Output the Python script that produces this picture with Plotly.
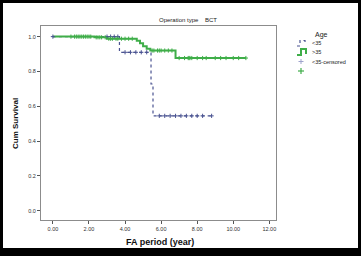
import numpy as np
import plotly.graph_objects as go

# ---- data ----
lt35_time = [0.0, 3.69, 5.44, 5.55, 8.8]
lt35_surv = [1.0, 0.91, 0.728, 0.545, 0.545]
gt35_time = [0.0, 2.3, 3.0, 4.65, 4.83, 5.0, 5.2, 5.4, 6.8, 10.7]
gt35_surv = [1.0, 0.996, 0.988, 0.977, 0.962, 0.945, 0.93, 0.92, 0.877, 0.877]

lt35_cens = [0.0, 3.0, 3.2, 3.4, 3.6, 4.0, 4.3, 4.6, 4.9, 5.2,
             5.9, 6.2, 6.5, 6.8, 7.1, 7.4, 7.7, 8.0, 8.3, 8.8]
gt35_cens = [1.0, 1.2, 1.3, 1.4, 1.5, 1.6, 1.7, 1.8, 1.9, 2.0, 2.1,
             2.4, 2.5, 2.6, 2.7, 2.9, 3.1, 3.2, 3.3, 3.5, 3.6, 3.8, 4.0, 4.2, 4.4,
             5.5, 5.6, 5.8, 5.9, 6.0, 6.2, 6.4, 6.6,
             7.0, 7.3, 7.5, 7.55, 7.6, 7.7, 8.0, 8.3, 8.5, 9.0, 9.3, 9.6, 10.0, 10.3, 10.7]

x_ticks = [0, 2, 4, 6, 8, 10, 12]
y_ticks = [0.0, 0.2, 0.4, 0.6, 0.8, 1.0]

NAVY = "#4a5391"
GREEN = "#3fae49"


def step_at(times, survs, t):
    idx = np.searchsorted(np.array(times), t, side="right") - 1
    return np.array(survs)[np.clip(idx, 0, len(survs) - 1)]


fig = go.Figure()
fig.add_trace(go.Scatter(x=lt35_time, y=lt35_surv, mode="lines", line_shape="hv",
                         line=dict(color=NAVY, width=1.2, dash="dot"), showlegend=False))
fig.add_trace(go.Scatter(x=gt35_time, y=gt35_surv, mode="lines", line_shape="hv",
                         line=dict(color=GREEN, width=2), showlegend=False))
fig.add_trace(go.Scatter(x=lt35_cens, y=step_at(lt35_time, lt35_surv, lt35_cens), mode="markers",
                         marker=dict(symbol="cross-thin", size=3, line=dict(color=NAVY, width=1)),
                         showlegend=False))
fig.add_trace(go.Scatter(x=gt35_cens, y=step_at(gt35_time, gt35_surv, gt35_cens), mode="markers",
                         marker=dict(symbol="cross-thin", size=3, line=dict(color=GREEN, width=1)),
                         showlegend=False))

W, H = 361, 256
L, R, T, B = 41, 85, 26, 36
PW, PH = W - L - R, H - T - B


def px(x):
    return (x - L) / PW


def py(y):
    return (H - B - y) / PH


def plus(cx, cy, r, color, width):
    return [
        dict(type="line", xref="paper", yref="paper", x0=px(cx - r), x1=px(cx + r),
             y0=py(cy), y1=py(cy), line=dict(color=color, width=width)),
        dict(type="line", xref="paper", yref="paper", x0=px(cx), x1=px(cx),
             y0=py(cy - r), y1=py(cy + r), line=dict(color=color, width=width)),
    ]


shapes = [
    dict(type="rect", xref="paper", yref="paper", x0=px(3), x1=px(358), y0=py(248), y1=py(3),
         fillcolor="white", line=dict(width=0), layer="below"),
    # legend glyph <35 (dotted step)
    dict(type="path", xref="paper", yref="paper",
         path=f"M {px(297)},{py(46)} L {px(300)},{py(46)} L {px(300)},{py(40.5)} L {px(305)},{py(40.5)} L {px(305)},{py(44)}",
         line=dict(color=NAVY, width=1.2, dash="dot")),
    # legend glyph >35 (solid step)
    dict(type="path", xref="paper", yref="paper",
         path=f"M {px(297)},{py(55)} L {px(301)},{py(55)} L {px(301)},{py(49)} L {px(306)},{py(49)} L {px(306)},{py(54)}",
         line=dict(color=GREEN, width=2)),
] + plus(301, 61.5, 2.5, "#9da2cc", 1) + plus(301, 71, 3, GREEN, 1.2)

annotations = [
    dict(text="Operation type    BCT", xref="paper", yref="paper", x=px(188), y=py(20),
         showarrow=False, font=dict(size=6, color="#222"), xanchor="center", yanchor="middle"),
    dict(text="<b>Cum Survival</b>", xref="paper", yref="paper", x=px(15), y=py(124),
         showarrow=False, textangle=-90, font=dict(size=8, color="#111"),
         xanchor="center", yanchor="middle"),
    dict(text="<b>FA period (year)</b>", xref="paper", yref="paper", x=px(160), y=py(242),
         showarrow=False, font=dict(size=9, color="#111"), xanchor="center", yanchor="middle"),
    dict(text="Age", xref="paper", yref="paper", x=px(312.5), y=py(35),
         showarrow=False, font=dict(size=7, color="#222"), xanchor="left", yanchor="middle"),
    dict(text="<35", xref="paper", yref="paper", x=px(309.5), y=py(43),
         showarrow=False, font=dict(size=5.5, color="#222"), xanchor="left", yanchor="middle"),
    dict(text=">35", xref="paper", yref="paper", x=px(309.5), y=py(52.5),
         showarrow=False, font=dict(size=5.5, color="#222"), xanchor="left", yanchor="middle"),
    dict(text="<35-censored", xref="paper", yref="paper", x=px(309.5), y=py(62),
         showarrow=False, font=dict(size=5.5, color="#222"), xanchor="left", yanchor="middle"),
]

fig.update_layout(
    width=W, height=H,
    margin=dict(l=L, r=R, t=T, b=B, autoexpand=False),
    paper_bgcolor="black", plot_bgcolor="white",
    font=dict(family="Liberation Sans, Arial, sans-serif", color="#333"),
    shapes=shapes, annotations=annotations,
    xaxis=dict(range=[-0.66, 12.37], tickvals=x_ticks, tickformat=".2f", automargin=False,
               showgrid=False, zeroline=False, showline=True, mirror=True,
               linecolor="#8c8c8c", linewidth=1, ticks="outside", ticklen=3,
               tickcolor="#555", tickfont=dict(size=5.5, color="#333")),
    yaxis=dict(range=[-0.053, 1.061], tickvals=y_ticks, tickformat=".1f", automargin=False,
               showgrid=False, zeroline=False, showline=True, mirror=True,
               linecolor="#8c8c8c", linewidth=1, ticks="outside", ticklen=3,
               tickcolor="#555", tickfont=dict(size=5.5, color="#333")),
)

fig.write_html("out.html", config={"displayModeBar": False},
               post_script="document.body.style.margin='0';document.body.style.overflow='hidden';")
